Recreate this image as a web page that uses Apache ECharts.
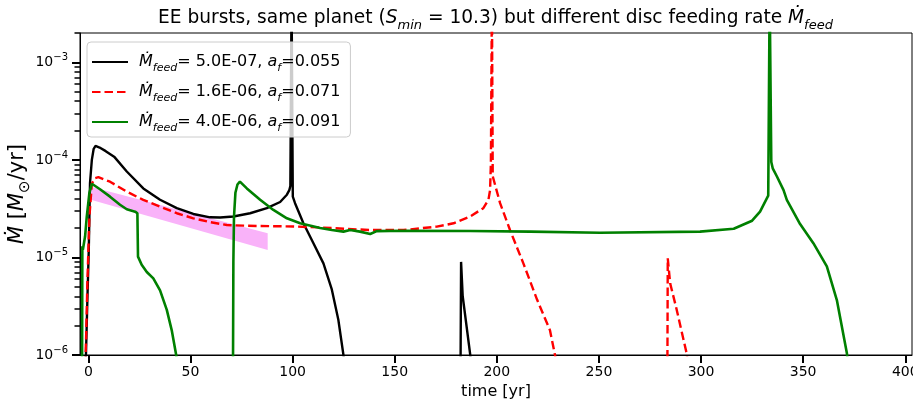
<!DOCTYPE html>
<html><head><meta charset="utf-8">
<script src="https://cdn.jsdelivr.net/npm/echarts@6/dist/echarts.min.js"></script>
<style>html,body{margin:0;padding:0;background:#fff}#c{width:913px;height:401px}</style>
</head><body><div id="c"></div>
<script>
// ---- data ----
const nameBlack = 'Mfeed= 5.0E-07, af=0.055';
const nameRed   = 'Mfeed= 1.6E-06, af=0.071';
const nameGreen = 'Mfeed= 4.0E-06, af=0.091';

const tBlack = [-1.3,-0.5,0.2,0.8,1.7,2.6,3.5,5.5,8.5,12.6,18.8,26.9,35.1,43.3,51.4,59.6,64.5,71.0,79.2,87.4,93.9,97.2,98.4,98.9,99.5,100.1,101.2,105.3,110.2,115.1,119.2,122.4,124.9,125.5,
  182.2,182.5,183.3,187.0,187.5];
const mdotBlack = [0.8e-6,3.6e-6,1.2e-5,5.8e-5,1.0e-4,1.3e-4,1.39e-4,1.34e-4,1.23e-4,1.08e-4,7.6e-5,5.1e-5,3.9e-5,3.2e-5,2.79e-5,2.58e-5,2.57e-5,2.63e-5,2.84e-5,3.2e-5,3.7e-5,4.4e-5,4.9e-5,5.4e-5,5e-3,4.2e-5,3.6e-5,2.24e-5,1.4e-5,8.7e-6,4.7e-6,2.3e-6,1.0e-6,0.8e-6,
  0.5e-6,9.0e-6,4.0e-6,1.0e-6,0.8e-6];

const tRed = [-1.5,-1.1,-0.5,0.5,1.7,3.3,4.9,10.6,18.8,26.9,35.1,43.3,51.4,59.6,67.8,75.9,84.1,100.4,113.5,137.9,154.3,170.6,178.8,186.9,193.4,195.9,196.7,197.1,197.6,198.0,201.6,206.5,213.0,219.7,226.0,228.5,229.2,
  283.5,283.7,284.9,288.1,292.9,293.6];
const mdotRed = [0.8e-6,1.55e-6,5.4e-6,2.6e-5,5.7e-5,6.5e-5,6.65e-5,5.98e-5,4.73e-5,3.89e-5,3.32e-5,2.84e-5,2.52e-5,2.3e-5,2.15e-5,2.12e-5,2.1e-5,2.08e-5,2.03e-5,1.91e-5,1.91e-5,2.07e-5,2.24e-5,2.63e-5,3.2e-5,3.9e-5,4.9e-5,9.3e-5,5e-3,6.8e-5,3.6e-5,1.9e-5,8.7e-6,3.7e-6,1.8e-6,1.0e-6,0.8e-6,
  0.5e-6,9.8e-6,5.4e-6,2.9e-6,1.05e-6,0.8e-6];

const tGreen = [-3.1,-2.95,-2.7,-1.6,-0.8,0.5,1.7,5.7,10.6,15.5,18.8,22.9,24.0,24.3,26.1,28.6,31.8,35.1,38.4,40.8,43.0,43.5,
  70.8,71.0,71.3,72.0,73.0,74.2,77.6,84.1,90.6,97.2,103.7,113.5,119.2,124.9,128.2,133.0,138.0,141.2,154.3,186.9,216.3,250.5,299.5,316.0,325.0,328.9,332.9,333.6,334.4,335.1,337.1,340.4,342.0,348.5,355.0,361.6,366.5,371.4,372.0];
const mdotGreen = [0.6e-6,1.3e-5,1.2e-5,1.65e-5,2.6e-5,4.6e-5,5.7e-5,5.0e-5,4.2e-5,3.47e-5,3.12e-5,2.95e-5,2.84e-5,1.02e-5,8.4e-6,7.1e-6,6.1e-6,4.6e-6,2.9e-6,1.8e-6,1.0e-6,0.8e-6,
  0.6e-6,9.0e-6,2.6e-5,4.6e-5,5.6e-5,6.0e-5,5.1e-5,3.9e-5,3.07e-5,2.52e-5,2.24e-5,2.0e-5,1.91e-5,1.84e-5,1.91e-5,1.84e-5,1.74e-5,1.86e-5,1.88e-5,1.87e-5,1.84e-5,1.79e-5,1.84e-5,1.97e-5,2.38e-5,2.95e-5,4.3e-5,5e-3,9.5e-5,8.2e-5,6.8e-5,4.9e-5,3.9e-5,2.2e-5,1.4e-5,8.1e-6,3.66e-6,1.05e-6,0.8e-6];

const tBand = [1.2, 87.8];
const bandTop = [5.3e-5, 1.77e-5];
const bandBottom = [3.9e-5, 1.19e-5];

const xTicks = [0,50,100,150,200,250,300,350,400];
const yMin = 1e-6, yMax = 2e-3;
const yMajorTicks = [1e-6,1e-5,1e-4,1e-3];
const yMinorTicks = [2e-6,3e-6,4e-6,5e-6,6e-6,7e-6,8e-6,9e-6,2e-5,3e-5,4e-5,5e-5,6e-5,7e-5,8e-5,9e-5,2e-4,3e-4,4e-4,5e-4,6e-4,7e-4,8e-4,9e-4,2e-3];

// ---- chart (y drawn on a decade scale: axis coordinate = log10 of the value) ----
const F = 'DejaVu Sans';
const L = Math.log10;
const pairs = (t, y) => t.map((v, i) => [v, L(y[i])]);
function rich(base) {
  const sub = Math.round(base * 0.7);
  return {
    i: {fontFamily: F, fontStyle: 'italic', fontSize: base, color: '#000'},
    s: {fontFamily: F, fontStyle: 'italic', fontSize: sub, color: '#000', verticalAlign: 'bottom'},
    u: {fontFamily: F, fontSize: sub, color: '#000', verticalAlign: 'top'},
    n: {fontFamily: F, fontSize: base, color: '#000'}
  };
}
const legendText = {};
legendText[nameBlack] = '{i|\u1E40}{s|feed}= 5.0E-07, {i|a}{s|f}=0.055';
legendText[nameRed]   = '{i|\u1E40}{s|feed}= 1.6E-06, {i|a}{s|f}=0.071';
legendText[nameGreen] = '{i|\u1E40}{s|feed}= 4.0E-06, {i|a}{s|f}=0.091';

const chart = echarts.init(document.getElementById('c'), null, {renderer: 'canvas'});
chart.setOption({
  animation: false,
  backgroundColor: '#fff',
  title: {
    text: 'EE bursts, same planet ({i|S}{s|min} = 10.3) but different disc feeding rate {i|\u1E40}{s|feed}',
    left: 153, top: 0,
    textStyle: {fontFamily: F, fontSize: 18.6, fontWeight: 'normal', color: '#000', lineHeight: 27, rich: rich(18.6)}
  },
  grid: {left: 80, right: 1, top: 33, bottom: 46, show: true, borderColor: '#000', borderWidth: 1,
         backgroundColor: 'transparent', outerBoundsMode: 'none', containLabel: false},
  legend: {
    data: [nameBlack, nameRed, nameGreen],
    orient: 'vertical', left: 87, top: 42,
    itemWidth: 36, itemHeight: 14, itemGap: 6,
    padding: [8, 10, 3, 4],
    backgroundColor: 'rgba(255,255,255,0.8)', borderColor: '#cccccc', borderWidth: 1, borderRadius: 4,
    itemStyle: {opacity: 0},
    textStyle: {fontFamily: F, fontSize: 16, color: '#000', lineHeight: 24, padding: [0, 0, 0, 6], rich: rich(16)},
    formatter: name => legendText[name]
  },
  xAxis: {
    type: 'value', min: -4.1, max: 403.3,
    axisLine: {show: true, onZero: false, lineStyle: {color: '#000', width: 1}},
    axisTick: {show: true, length: 8, lineStyle: {color: '#000', width: 2}, customValues: xTicks},
    axisLabel: {customValues: xTicks, margin: 10, fontFamily: F, fontSize: 14, color: '#000'},
    splitLine: {show: false},
    name: 'time [yr]', nameLocation: 'middle', nameGap: 25,
    nameTextStyle: {fontFamily: F, fontSize: 16, color: '#000'}
  },
  yAxis: [{
    type: 'value', min: L(yMin), max: L(yMax), position: 'left',
    axisLine: {show: true, onZero: false, lineStyle: {color: '#000', width: 1}},
    axisTick: {show: true, length: 8, lineStyle: {color: '#000', width: 2}, customValues: yMajorTicks.map(L)},
    axisLabel: {
      customValues: yMajorTicks.map(L), margin: 12, fontFamily: F, fontSize: 14, color: '#000', lineHeight: 20,
      formatter: v => '{n|10}{u|\u2212' + (-Math.round(v)) + '}',
      rich: rich(14)
    },
    splitLine: {show: false}, minorTick: {show: false},
    name: '{i|\u1E40} [{i|M}{s|\u2299}/yr]', nameLocation: 'middle', nameGap: 47, nameRotate: 90,
    nameMoveOverlap: false,
    nameTextStyle: {fontFamily: F, fontSize: 21, color: '#000', lineHeight: 30, rich: rich(21)}
  }, {
    type: 'value', min: L(yMin), max: L(yMax), position: 'left',
    axisLine: {show: false, onZero: false},
    axisTick: {show: true, length: 5.5, lineStyle: {color: '#000', width: 1.5}, customValues: yMinorTicks.map(L)},
    axisLabel: {show: false},
    splitLine: {show: false}, minorTick: {show: false}
  }],
  series: [
    {
      type: 'custom', name: 'band', coordinateSystem: 'cartesian2d', silent: true, z: 1, clip: true,
      data: [[tBand[0], L(bandTop[0])]],
      renderItem: (params, api) => {
        const pts = [];
        for (let i = 0; i < tBand.length; i++) pts.push(api.coord([tBand[i], L(bandTop[i])]));
        for (let i = tBand.length - 1; i >= 0; i--) pts.push(api.coord([tBand[i], L(bandBottom[i])]));
        return {type: 'polygon', shape: {points: pts}, style: {fill: 'rgb(249,178,249)'}};
      }
    },
    {name: nameBlack, type: 'line', data: pairs(tBlack, mdotBlack), symbol: 'none', z: 2,
     lineStyle: {color: '#000', width: 2.4}, itemStyle: {color: '#000'}},
    {name: nameRed, type: 'line', data: pairs(tRed, mdotRed), symbol: 'none', z: 3,
     lineStyle: {color: '#ff0000', width: 2.4, type: [8.5, 4]}, itemStyle: {color: '#ff0000'}},
    {name: nameGreen, type: 'line', data: pairs(tGreen, mdotGreen), symbol: 'none', z: 4,
     lineStyle: {color: '#008000', width: 2.6}, itemStyle: {color: '#008000'}}
  ]
});
</script></body></html>
